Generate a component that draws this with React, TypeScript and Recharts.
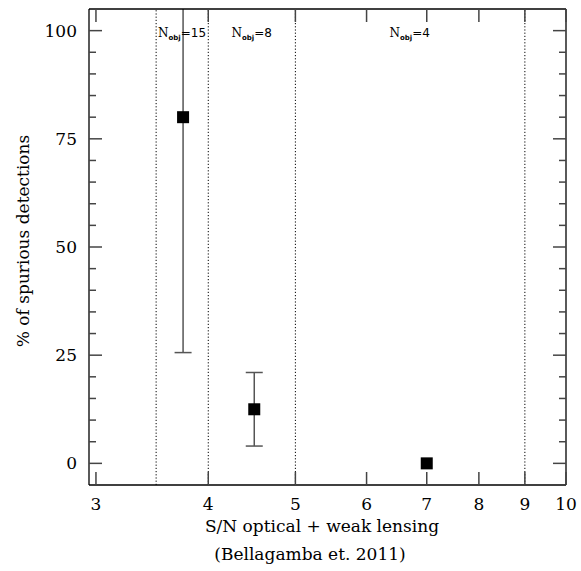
import React from 'react';
import { ScatterChart, Scatter, XAxis, YAxis, ErrorBar, ReferenceLine } from 'recharts';

// Data
const snValues = [3.75, 4.5, 7.0];
const spuriousPct = [80, 12.5, 0];
const pctError: (number | null)[] = [54.4, 8.5, null];
const binEdges = [3.5, 4, 5, 9];
const binLabelX = [3.74, 4.47, 6.7];
const binCounts = ['15', '8', '4'];
const xTicks = [3, 4, 5, 6, 7, 8, 9, 10];
const yTicks = [0, 5, 10, 15, 20, 25, 30, 35, 40, 45, 50, 55, 60, 65, 70, 75, 80, 85, 90, 95, 100];
const yLabeled = [0, 25, 50, 75, 100];

const points = snValues.map((x, i) => ({ x, y: spuriousPct[i], err: pctError[i] }));
const binLabels = binLabelX.map((x, i) => ({ x, y: 100, n: binCounts[i] }));

const FONT = 'DejaVu Serif';
const TICK_COLOR = '#444';
const TICK_W = 1.5;
const W = 581;
const H = 571;
const M = { top: 8, right: 14, bottom: 85, left: 88 };

const renderBottomTick = (props: any) => {
  const x = Number(props.x);
  const y = Number(props.y);
  return (
    <g key={'b' + props.index}>
      <path d={`M${x},${y}V${y - 13}`} stroke={TICK_COLOR} strokeWidth={TICK_W} fill="none" />
      <text x={x} y={y + 25} textAnchor="middle" fontFamily={FONT} fontSize={17} fill="#000">
        {props.payload.value}
      </text>
    </g>
  );
};

const renderTopTick = (props: any) => {
  const x = Number(props.x);
  const y = Number(props.y);
  return (
    <g key={'t' + props.index}>
      <path d={`M${x},${y}V${y + 13}`} stroke={TICK_COLOR} strokeWidth={TICK_W} fill="none" />
    </g>
  );
};

const renderLeftTick = (props: any) => {
  const x = Number(props.x);
  const y = Number(props.y);
  const major = yLabeled.includes(props.payload.value);
  return (
    <g key={'l' + props.index}>
      <path d={`M${x},${y}H${x + (major ? 13 : 7)}`} stroke={TICK_COLOR} strokeWidth={TICK_W} fill="none" />
      {major && (
        <text x={x - 12} y={y + 6} textAnchor="end" fontFamily={FONT} fontSize={17} fill="#000">
          {props.payload.value}
        </text>
      )}
    </g>
  );
};

const renderRightTick = (props: any) => {
  const x = Number(props.x);
  const y = Number(props.y);
  const major = yLabeled.includes(props.payload.value);
  return (
    <g key={'r' + props.index}>
      <path d={`M${x},${y}H${x - (major ? 13 : 7)}`} stroke={TICK_COLOR} strokeWidth={TICK_W} fill="none" />
    </g>
  );
};

const SquareMark = (props: any) => {
  const { cx, cy } = props;
  return <rect x={cx - 6} y={cy - 6} width={12} height={12} fill="#000" />;
};

const BinLabel = (props: any) => {
  const { cx, cy, payload } = props;
  return (
    <text x={cx} y={cy + 6} textAnchor="middle" fontFamily={FONT} fontSize={12} fill="#000">
      N
      <tspan fontSize={7} fontWeight="bold" fontFamily="DejaVu Sans" dy={3}>obj</tspan>
      <tspan dy={-3} fontFamily="DejaVu Sans">{'=' + payload.n}</tspan>
    </text>
  );
};

export default function App() {
  return (
    <div style={{ position: 'absolute', left: 0, top: 0, width: W, height: H, background: '#fff' }}>
      <svg width={0} height={0} style={{ position: 'absolute' }}>
        <defs>
          <clipPath id="plotAreaClip">
            <rect x={M.left + 1} y={M.top + 1} width={W - M.left - M.right - 2} height={H - M.top - M.bottom - 2} />
          </clipPath>
        </defs>
      </svg>
      <ScatterChart width={W} height={H} margin={M}>
        <XAxis
          xAxisId="bottom"
          type="number"
          dataKey="x"
          scale="log"
          domain={[2.947, 10]}
          allowDataOverflow
          ticks={xTicks}
          interval={0}
          height={1}
          tickSize={0}
          tickMargin={0}
          tickLine={false}
          tick={renderBottomTick}
          axisLine={{ stroke: '#000', strokeWidth: 1.3 }}
        />
        <XAxis
          xAxisId="top"
          orientation="top"
          type="number"
          dataKey="x"
          scale="log"
          domain={[2.947, 10]}
          allowDataOverflow
          ticks={xTicks}
          interval={0}
          height={1}
          tickSize={0}
          tickMargin={0}
          tickLine={false}
          tick={renderTopTick}
          axisLine={{ stroke: '#000', strokeWidth: 1.3 }}
        />
        <YAxis
          yAxisId="left"
          type="number"
          dataKey="y"
          domain={[-5, 105]}
          allowDataOverflow
          ticks={yTicks}
          interval={0}
          width={1}
          tickSize={0}
          tickMargin={0}
          tickLine={false}
          tick={renderLeftTick}
          axisLine={{ stroke: '#000', strokeWidth: 1.3 }}
        />
        <YAxis
          yAxisId="right"
          orientation="right"
          type="number"
          dataKey="y"
          domain={[-5, 105]}
          allowDataOverflow
          ticks={yTicks}
          interval={0}
          width={1}
          tickSize={0}
          tickMargin={0}
          tickLine={false}
          tick={renderRightTick}
          axisLine={{ stroke: '#000', strokeWidth: 1.3 }}
        />
        {binEdges.map((e) => (
          <ReferenceLine
            key={e}
            x={e}
            xAxisId="bottom"
            yAxisId="left"
            stroke="#000"
            strokeWidth={1}
            strokeDasharray="1.2 2"
          />
        ))}
        <Scatter
          data={points}
          xAxisId="bottom"
          yAxisId="left"
          fill="#000"
          shape={<SquareMark />}
          isAnimationActive={false}
        >
          <ErrorBar
            dataKey="err"
            direction="y"
            width={8.5}
            stroke="#555"
            strokeWidth={1.5}
            clipPath="url(#plotAreaClip)"
          />
        </Scatter>
        <Scatter
          data={binLabels}
          xAxisId="bottom"
          yAxisId="left"
          shape={<BinLabel />}
          isAnimationActive={false}
        />
      </ScatterChart>
      <svg width={W} height={H} style={{ position: 'absolute', left: 0, top: 0, pointerEvents: 'none' }}>
        <text x={322} y={532} textAnchor="middle" fontFamily={FONT} fontSize={17} fill="#000">
          S/N optical + weak lensing
        </text>
        <text x={310} y={560} textAnchor="middle" fontFamily={FONT} fontSize={17} fill="#000">
          (Bellagamba et. 2011)
        </text>
        <text
          x={29}
          y={241}
          textAnchor="middle"
          fontFamily={FONT}
          fontSize={17}
          fill="#000"
          transform="rotate(-90 29 241)"
        >
          % of spurious detections
        </text>
      </svg>
    </div>
  );
}
